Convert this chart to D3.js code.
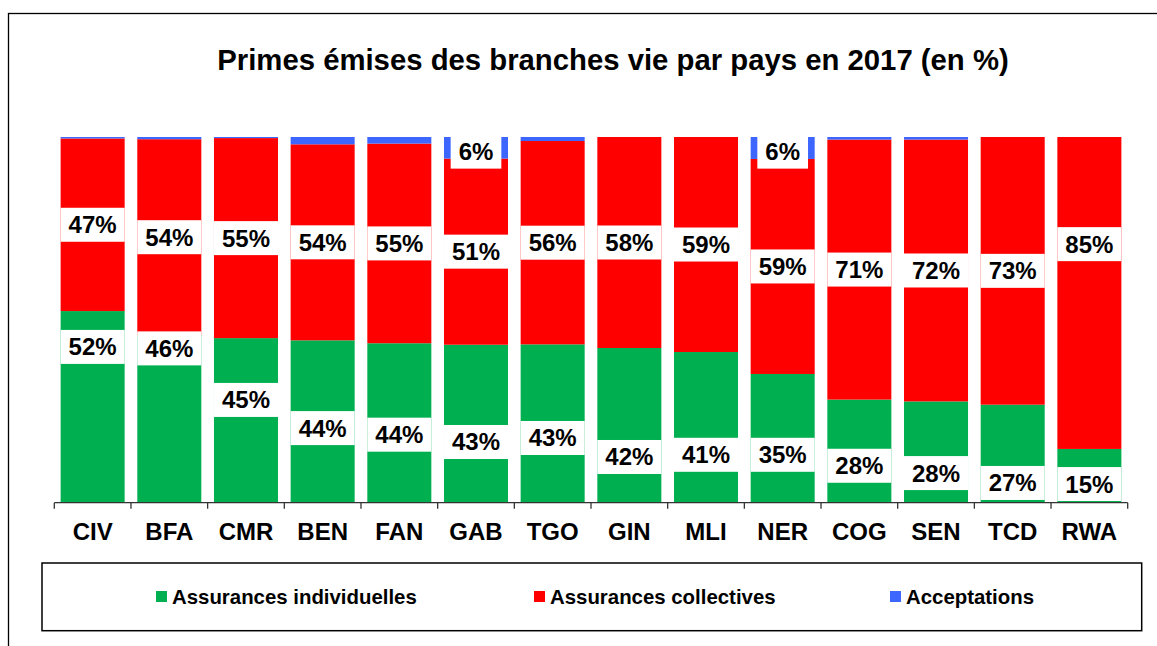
<!DOCTYPE html>
<html>
<head>
<meta charset="utf-8">
<script src="https://cdn.jsdelivr.net/npm/d3@7"></script>
<style>
  body { margin: 0; background: #fff; }
  text { font-family: Arial, "Liberation Sans", sans-serif; font-weight: bold; fill: #000; }
</style>
</head>
<body>
<div id="chart"></div>
<script>
// Pays et parts (en %) de chaque branche
const countries = ['CIV', 'BFA', 'CMR', 'BEN', 'FAN', 'GAB', 'TGO', 'GIN', 'MLI', 'NER', 'COG', 'SEN', 'TCD', 'RWA'];
const individuelles = [52.4, 45.8, 45.0, 44.4, 43.6, 43.2, 43.3, 42.3, 41.2, 35.2, 28.2, 27.7, 26.8, 14.7];
const collectives = [47.2, 53.6, 54.7, 53.6, 54.6, 50.9, 55.6, 57.7, 58.8, 58.8, 71.1, 71.6, 73.2, 85.3];
const acceptations = [0.4, 0.6, 0.3, 2.0, 1.8, 5.9, 1.1, 0, 0, 6.0, 0.7, 0.7, 0, 0];

const seriesNames = ['Assurances individuelles', 'Assurances collectives', 'Acceptations'];
const colors = ['#00B050', '#FF0000', '#3D66FF'];

// where the labels were moved to by hand (in % of the axis), null = middle of segment
const labelAt = [
  [42.6, 42.2, 28.1, 20.4, 18.6, 16.6, 17.7, 12.5, 13.1, 13.1, 10.1, 8.1, 5.4, 5.1],
  [null, null, null, null, null, null, null, null, null, null, null, null, null, 70.7],
  [null, null, null, null, null, 96.0, null, null, null, 96.0, null, null, null, null]
];

const width = 1157;
const height = 646;

const svg = d3.select('#chart')
  .append('svg')
  .attr('width', width)
  .attr('height', height);

// chart area border (goes past the right and bottom edges)
svg.append('rect')
  .attr('x', 8.5).attr('y', 13.5)
  .attr('width', 1220).attr('height', 700)
  .attr('fill', 'none')
  .attr('stroke', '#000')
  .attr('stroke-width', 1.3);

svg.append('text')
  .attr('x', 613).attr('y', 70)
  .attr('text-anchor', 'middle')
  .style('font-size', '29.3px')
  .text('Primes émises des branches vie par pays en 2017 (en %)');

const x = d3.scaleBand()
  .domain(countries)
  .range([54.3, 1127.7])
  .paddingInner(0.165)
  .paddingOuter(0.0825);

const y = d3.scaleLinear()
  .domain([0, 100])
  .range([502.7, 137]);

const rows = countries.map((c, i) => ({
  country: c,
  s0: individuelles[i],
  s1: collectives[i],
  s2: acceptations[i]
}));

const stack = d3.stack().keys(['s0', 's1', 's2']);
const series = stack(rows);

const layers = svg.append('g')
  .selectAll('g')
  .data(series)
  .join('g')
  .attr('fill', (d, i) => colors[i]);

layers.selectAll('rect')
  .data(d => d)
  .join('rect')
  .attr('x', d => x(d.data.country))
  .attr('y', d => y(d[1]))
  .attr('width', x.bandwidth())
  .attr('height', d => Math.max(0, y(d[0]) - y(d[1])));

// axis
const xAxis = svg.append('g')
  .attr('transform', 'translate(0,502.7)');

xAxis.append('line')
  .attr('x1', 54.3).attr('x2', 1127.7)
  .attr('stroke', '#333').attr('stroke-width', 1.3);

const tickPos = countries.map(c => x(c) - x.step() * x.paddingInner() / 2)
  .concat([x(countries[countries.length - 1]) + x.bandwidth() + x.step() * x.paddingInner() / 2]);

xAxis.selectAll('.tick')
  .data(tickPos)
  .join('line')
  .attr('class', 'tick')
  .attr('x1', d => d).attr('x2', d => d)
  .attr('y1', 0).attr('y2', 6)
  .attr('stroke', '#333').attr('stroke-width', 1.3);

xAxis.selectAll('.lbl')
  .data(countries)
  .join('text')
  .attr('class', 'lbl')
  .attr('x', d => x(d) + x.bandwidth() / 2)
  .attr('y', 37)
  .attr('text-anchor', 'middle')
  .style('font-size', '24px')
  .text(d => d);

// data labels
const labels = svg.append('g');
series.forEach((s, si) => {
  s.forEach((d, i) => {
    const v = d[1] - d[0];
    if (si === 1 || si === 0 || v >= 3) {
      const at = labelAt[si][i];
      const cy = at === null ? y((d[0] + d[1]) / 2) : y(at);
      const cx = x(d.data.country) + x.bandwidth() / 2;
      const g = labels.append('g');
      const t = g.append('text')
        .attr('x', cx)
        .attr('y', cy + 8.5)
        .attr('text-anchor', 'middle')
        .style('font-size', '24px')
        .text(Math.round(v) + '%');
      const w = t.node().getComputedTextLength() + 16;
      g.insert('rect', 'text')
        .attr('x', cx - w / 2)
        .attr('y', cy - 17)
        .attr('width', w)
        .attr('height', 34)
        .attr('fill', '#fff');
    }
  });
});

// legend
const legend = svg.append('g');
legend.append('rect')
  .attr('x', 42).attr('y', 563)
  .attr('width', 1099.7).attr('height', 67.7)
  .attr('fill', 'none')
  .attr('stroke', '#000')
  .attr('stroke-width', 1.5);

const legendX = [156, 534, 890];
seriesNames.forEach((name, i) => {
  legend.append('rect')
    .attr('x', legendX[i]).attr('y', 591)
    .attr('width', 11).attr('height', 11)
    .attr('fill', colors[i]);
  legend.append('text')
    .attr('x', legendX[i] + 16)
    .attr('y', 604)
    .style('font-size', '20.4px')
    .text(name);
});
</script>
</body>
</html>
